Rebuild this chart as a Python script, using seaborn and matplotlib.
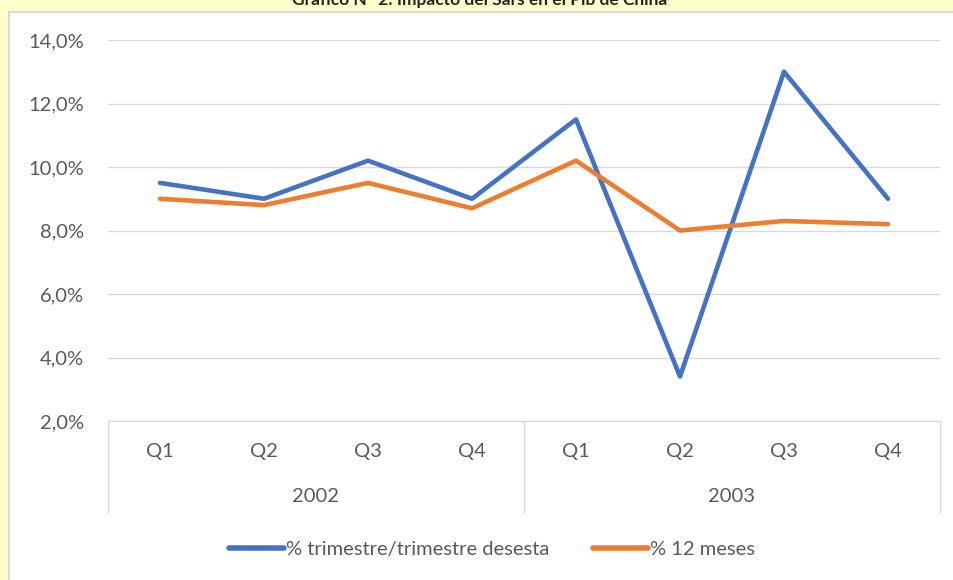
import pandas as pd
import matplotlib.pyplot as plt
import seaborn as sns
from matplotlib.patches import Rectangle

# datos
years = ["2002", "2003"]
quarters = ["Q1", "Q2", "Q3", "Q4"]
trimestral = [9.5, 9.0, 10.2, 9.0, 11.5, 3.4, 13.0, 9.0]
anual = [9.0, 8.8, 9.5, 8.7, 10.2, 8.0, 8.3, 8.2]
series_names = ["% trimestre/trimestre desesta", "% 12 meses"]
title = "Gráfico N° 2: Impacto del Sars en el Pib de China"

W, H = 954, 580
pos = list(range(len(trimestral)))
df = pd.DataFrame({
    "pos": pos * 2,
    "valor": trimestral + anual,
    "serie": [series_names[0]] * len(pos) + [series_names[1]] * len(pos),
})

sns.set_style("white")
plt.rcParams["font.family"] = ["Lato", "DejaVu Sans"]
txt = "#595959"
grid = "#D9D9D9"
fs = 14.5

fig = plt.figure(figsize=(W / 100, H / 100), dpi=100)
# marco amarillo y borde del grafico
fig.patches.append(Rectangle((0, 0), 9 / W, 1, transform=fig.transFigure,
                             color="#FFFFCC", zorder=0))
fig.patches.append(Rectangle((0, 1 - 12 / H), 1, 12 / H, transform=fig.transFigure,
                             color="#FFFFCC", zorder=0))
fig.patches.append(Rectangle((9 / W, -0.01), 1, 1 - 12 / H + 0.01, transform=fig.transFigure,
                             fill=False, edgecolor=grid, lw=1.5, zorder=1))
fig.text(480 / W, 1 - 5 / H, title, ha="center", va="baseline",
         fontsize=12.5, fontweight="bold", color="#262626")

ax = fig.add_axes([108 / W, 1 - 421 / H, (940 - 108) / W, (421 - 40) / H])
sns.lineplot(data=df, x="pos", y="valor", hue="serie", ax=ax,
             palette=["#4472C4", "#ED7D31"], linewidth=3.3, legend=False)

ax.set_xlim(-0.5, len(pos) - 0.5)
ax.set_ylim(2, 14)
ax.set_yticks(range(2, 15, 2))
ax.set_yticklabels([f"{v},0%" for v in range(2, 15, 2)], fontsize=fs, color=txt)
ax.yaxis.grid(True, color=grid, lw=1)
ax.tick_params(axis="y", length=0, pad=17)
for s in ["left", "right", "top"]:
    ax.spines[s].set_visible(False)
ax.spines["bottom"].set_color(grid)

ax.set_xticks(pos)
ax.set_xticklabels(quarters * len(years), fontsize=fs, color=txt)
ax.tick_params(axis="x", length=0, pad=16)
ax.set_xlabel("")
ax.set_ylabel("")

# eje de categorias de dos niveles
tr = ax.get_xaxis_transform()
depth = -(513 - 421) / (421 - 40)
for x in [-0.5, 3.5, 7.5]:
    ax.plot([x, x], [0, depth], transform=tr, color=grid, lw=1, clip_on=False)
for i, yr in enumerate(years):
    ax.text(1.5 + 4 * i, -(497 - 421) / (421 - 40), yr, transform=tr,
            ha="center", va="center", fontsize=fs, color=txt)

# leyenda
handles = [plt.Line2D([], [], color=c, lw=4) for c in ["#4472C4", "#ED7D31"]]
fig.legend(handles, series_names, loc="center", bbox_to_anchor=(492 / W, 1 - 549 / H),
           ncol=2, frameon=False, fontsize=fs, labelcolor=txt,
           handlelength=2.7, handletextpad=0.1, columnspacing=2.2)

fig.savefig("out.png", dpi=100)
